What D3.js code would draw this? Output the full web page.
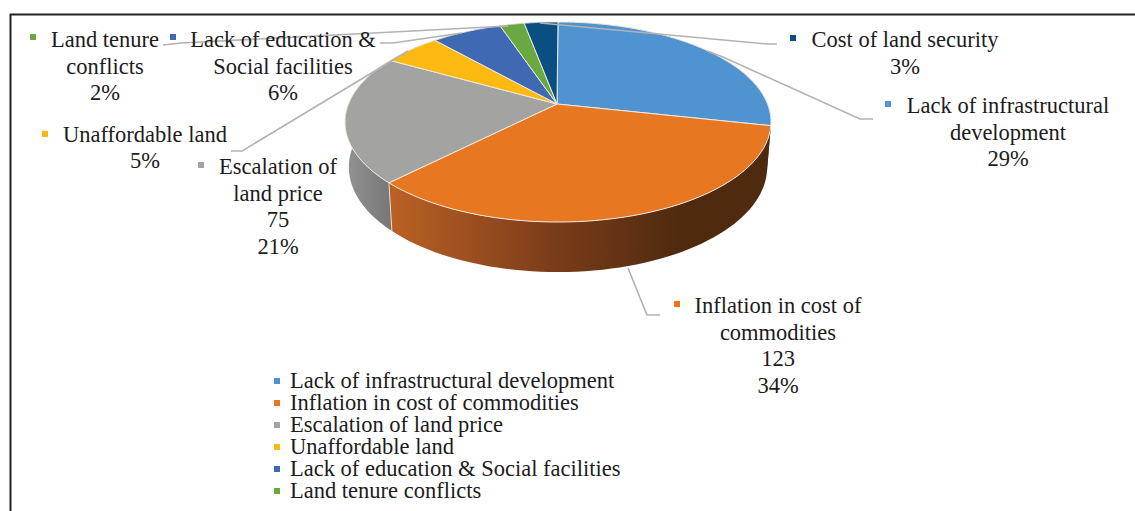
<!DOCTYPE html>
<html><head><meta charset="utf-8">
<script src="https://cdn.jsdelivr.net/npm/d3@7"></script>
<style>html,body{margin:0;padding:0;background:#fff}svg{display:block}text{font-family:"Liberation Serif",serif;fill:#1c1c1c}</style>
</head><body><div id="c"></div>
<script>
const categories=["Lack of infrastructural development","Inflation in cost of commodities","Escalation of land price","Unaffordable land","Lack of education & Social facilities","Land tenure conflicts","Cost of land security"];
const values=[103,123,75,19,23,8,11];
const colors=["#4f94d0","#e87722","#a3a3a1","#fbb912","#4069b3","#6aa842","#0a4f82"];
const labelLines=[["Lack of infrastructural","development","29%"],["Inflation in cost of","commodities","123","34%"],["Escalation of","land price","75","21%"],["Unaffordable land","5%"],["Lack of education &","Social facilities","6%"],["Land tenure","conflicts","2%"],["Cost of land security","3%"]];
const legendCount=6;
// layout
const W=1135,H=511;
const labelPos=[{cx:1008,y:112.8,mx:888,my:104},{cx:778,y:312.8,mx:677,my:304},{cx:278,y:174,mx:201,my:165},{cx:145,y:141.6,mx:45,my:134},{cx:283,y:46.8,mx:173,my:37},{cx:105,y:46.8,mx:33,my:37},{cx:905,y:46.8,mx:793,my:38}];
const leaderPaths=[[[707,51],[723,57],[860,119],[873,119]],[[628,268],[647,315],[660,315]],null,[[408,51],[242,151],[231,151]],[[462,33],[393,43],[380,43]],[[508,26],[181,43],[163,45]],[[540,23],[767,44],[777,44]]];

const svg=d3.select("#c").append("svg").attr("width",W).attr("height",H);
const defs=svg.append("defs");
const g1=defs.append("linearGradient").attr("id","og").attr("gradientUnits","userSpaceOnUse").attr("x1",390).attr("x2",680).attr("y1",0).attr("y2",0);
[[0,"#bb6125"],[0.55,"#7c3d1a"],[1,"#4f2a0e"]].forEach(s=>g1.append("stop").attr("offset",s[0]).attr("stop-color",s[1]));
const g2=defs.append("linearGradient").attr("id","gg").attr("gradientUnits","userSpaceOnUse").attr("x1",345).attr("x2",395).attr("y1",0).attr("y2",0);
[[0,"#939393"],[1,"#747474"]].forEach(s=>g2.append("stop").attr("offset",s[0]).attr("stop-color",s[1]));

// frame
svg.append("path").attr("d","M1135,14.5H10.5V511").attr("fill","none").attr("stroke","#222").attr("stroke-width",2);

// perspective projection of the unit circle
const cx=558,cy=104,k=-0.18,a=96.8,b=209.5;
function face(t){const X=Math.sin(t),Y=-Math.cos(t),d=1+k*Y;return [cx+b*X/d,cy+a*Y/d];}
function rim(t){const p=face(t),Y=-Math.cos(t);return [cx+(p[0]-cx)*0.982,p[1]+44+6*Y];}
const arcs=d3.pie().sort(null).value(d=>d)(values);
const line=d3.line();
function samples(s,e){return d3.range(0,61).map(i=>s+(e-s)*i/60);}

// side walls
const sideFill=i=>i===1?"url(#og)":i===2?"url(#gg)":d3.color(colors[i]).darker(1.4).formatHex();
svg.append("g").selectAll("path").data(arcs).join("path")
 .attr("d",d=>{const ts=samples(d.startAngle,d.endAngle);return line(ts.map(t=>face(t)).concat(ts.slice().reverse().map(t=>rim(t))))+"Z";})
 .attr("fill",(d,i)=>sideFill(i));
// wall seam between orange and gray
svg.append("path").attr("d",()=>{const t=arcs[1].endAngle;return line([face(t),rim(t)]);}).attr("stroke","#e9dccb").attr("stroke-width",1).attr("fill","none");

// top faces
svg.append("g").selectAll("path").data(arcs).join("path")
 .attr("d",d=>line([[cx-1,cy]].concat(samples(d.startAngle,d.endAngle).map(t=>face(t))))+"Z")
 .attr("fill",(d,i)=>colors[i]).attr("stroke","#f1e9df").attr("stroke-width",1).attr("stroke-linejoin","round");

// leaders
const lg=svg.append("g").attr("fill","none").attr("stroke","#b2b2b2").attr("stroke-width",1.6);
leaderPaths.forEach(e=>{if(e)lg.append("path").attr("d",line(e));});

// data labels
labelLines.forEach((ls,i)=>{
 const p=labelPos[i];
 svg.append("rect").attr("x",p.mx-3).attr("y",p.my-3).attr("width",6).attr("height",6).attr("fill",colors[i]);
 const t=svg.append("text").attr("text-anchor","middle").attr("font-size",22.5);
 ls.forEach((s,j)=>t.append("tspan").attr("x",p.cx).attr("y",p.y+j*26.7).text(s));
});

// legend
const ly=d3.scalePoint().domain(categories.slice(0,legendCount)).range([381,491]);
const lgd=svg.append("g").selectAll("g").data(categories.slice(0,legendCount)).join("g").attr("transform",d=>`translate(277,${ly(d)})`);
lgd.append("rect").attr("x",-3).attr("y",-3).attr("width",6).attr("height",6).attr("fill",(d,i)=>colors[i]);
lgd.append("text").attr("x",13).attr("y",6.5).attr("font-size",22.5).text(d=>d);
</script></body></html>
